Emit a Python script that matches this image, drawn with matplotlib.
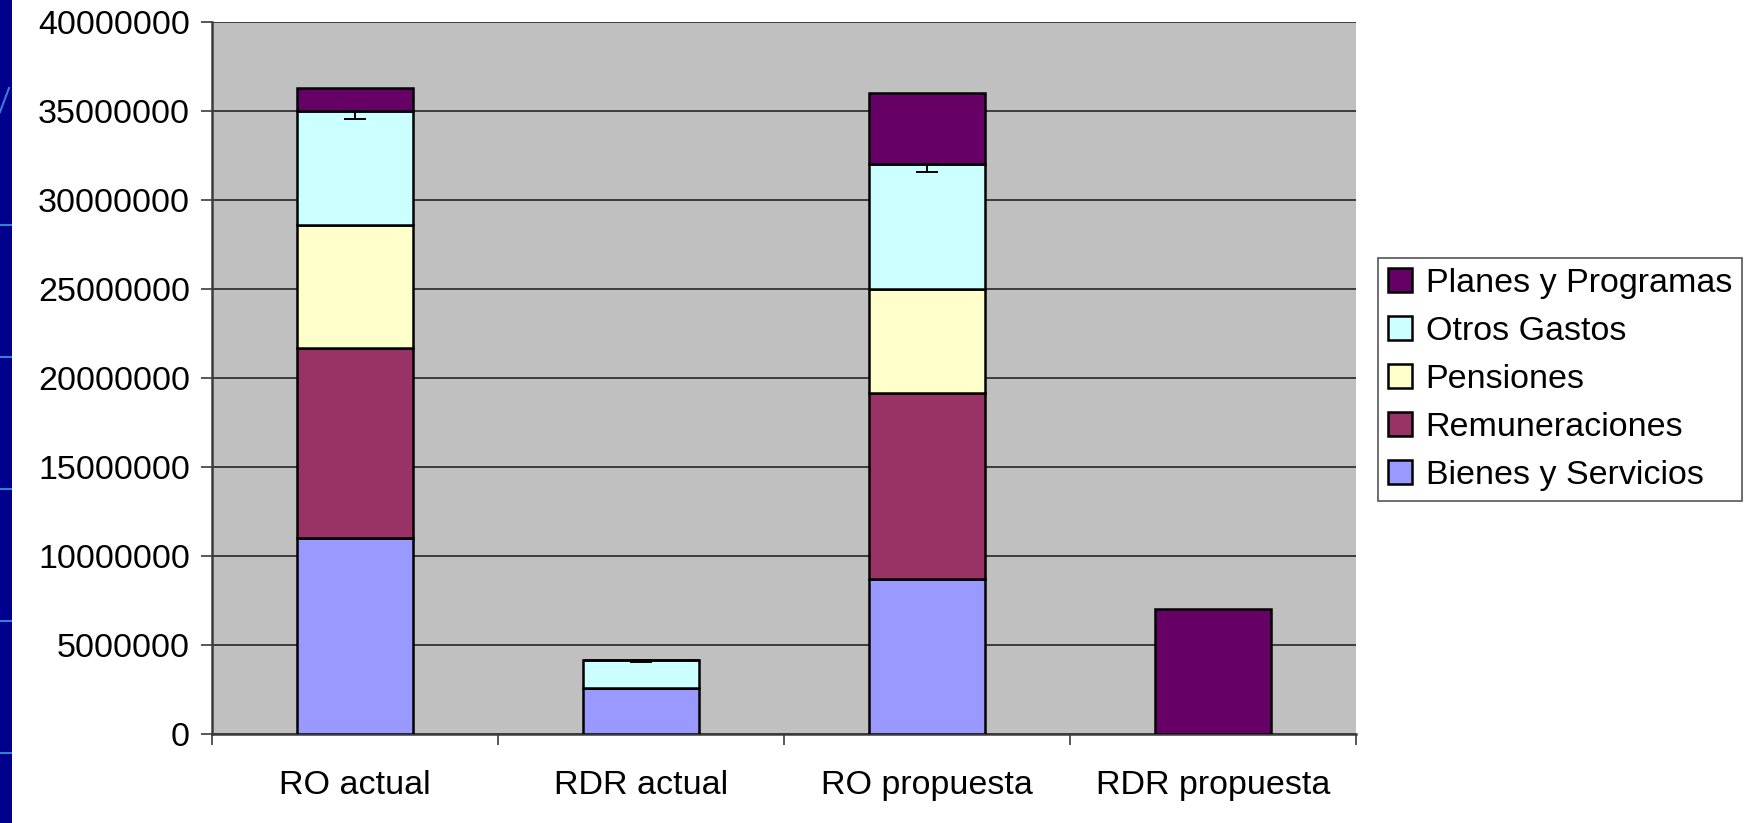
import numpy as np
import matplotlib.pyplot as plt
from matplotlib.patches import Rectangle
from matplotlib.lines import Line2D

plt.rcParams['font.family'] = ['Liberation Sans', 'DejaVu Sans']

categories = ['RO actual', 'RDR actual', 'RO propuesta', 'RDR propuesta']
series = ['Bienes y Servicios', 'Remuneraciones', 'Pensiones', 'Otros Gastos', 'Planes y Programas']

bienes = [11000000, 2600000, 8700000, 0]
remuneraciones = [10700000, 0, 10450000, 0]
pensiones = [6900000, 0, 5850000, 0]
otros = [6400000, 1550000, 7000000, 0]
planes = [1300000, 0, 4000000, 7050000]

# lower error on "Otros Gastos"
otros_err = [450000, 100000, 420000, 0]

colors = ['#9999FF', '#993366', '#FFFFCC', '#CCFFFF', '#660066']
FS = 24.5

fig = plt.figure(figsize=(17.47, 8.23), dpi=100)
fig.patch.set_facecolor('white')

# dark blue strip on the left edge with light rules
fig.add_artist(Rectangle((0, 0), 12 / 1747, 1, transform=fig.transFigure,
                         facecolor='#00008C', edgecolor='none'))
for yy in [225, 357, 489, 621, 753]:
    fig.add_artist(Line2D([0, 11 / 1747], [1 - yy / 823, 1 - yy / 823],
                          transform=fig.transFigure, color='#3A7BD5', lw=1.5))
fig.add_artist(Line2D([0, 9 / 1747], [1 - 112 / 823, 1 - 88 / 823],
                      transform=fig.transFigure, color='#3A7BD5', lw=1.5))

ax = fig.add_axes([212 / 1747, 1 - 734 / 823, (1356 - 212) / 1747, (734 - 22) / 823])
ax.set_facecolor('#C0C0C0')

x = np.arange(len(categories))
w = 0.405
data = [bienes, remuneraciones, pensiones, otros, planes]
bottom = np.zeros(len(categories))
handles = []
for name, vals, c in zip(series, data, colors):
    vals = np.array(vals, dtype=float)
    b = ax.bar(x, vals, w, bottom=bottom, color=c, edgecolor='black', linewidth=1.8,
               label=name, zorder=3)
    handles.append(b)
    if name == 'Otros Gastos':
        tops = bottom + vals
        m = vals > 0
        ax.errorbar(x[m], tops[m], yerr=[np.array(otros_err)[m], np.zeros(m.sum())],
                    fmt='none', ecolor='black', elinewidth=1.4, capsize=8, capthick=1.4,
                    zorder=5)
    bottom = bottom + vals

ax.set_xlim(-0.5, 3.5)
ax.set_ylim(0, 40000000)
ax.set_yticks(np.arange(0, 40000001, 5000000))
ax.set_yticklabels([str(v) for v in range(0, 40000001, 5000000)], fontsize=FS)
ax.yaxis.grid(True, color='#3C3C3C', linewidth=1.4, zorder=1)
ax.set_axisbelow(True)

ax.set_xticks(x)
ax.set_xticklabels(categories, fontsize=FS)
ax.set_xticks(np.arange(-0.5, 4.0, 1.0), minor=True)
ax.tick_params(axis='x', which='major', length=0, pad=26)
ax.tick_params(axis='x', which='minor', length=8, width=1.2, color='#3C3C3C')
ax.tick_params(axis='y', length=8, width=1.2, color='#3C3C3C', pad=8)

for s in ['top', 'right']:
    ax.spines[s].set_visible(False)
for s in ['left', 'bottom']:
    ax.spines[s].set_color('#3C3C3C')
    ax.spines[s].set_linewidth(1.8)

leg = ax.legend(handles[::-1], series[::-1], loc='upper left',
                bbox_to_anchor=(1378 / 1747, 1 - 258 / 823), bbox_transform=fig.transFigure,
                fontsize=FS, frameon=True, fancybox=False, framealpha=1,
                handlelength=0.7, handleheight=0.7, handletextpad=0.4,
                labelspacing=0.5, borderpad=0.3, borderaxespad=0)
leg.get_frame().set_edgecolor('#555555')
leg.get_frame().set_linewidth(1.2)

fig.savefig('out.png', dpi=100)
